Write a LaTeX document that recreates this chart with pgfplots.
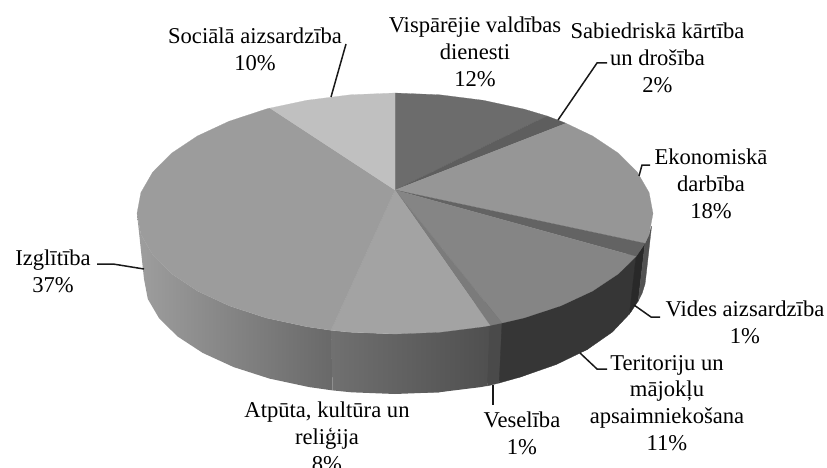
\documentclass[border=0pt]{standalone}
\usepackage{pgfplots}
\pgfplotsset{compat=1.18}
\usepackage{fontspec}
\setmainfont{Liberation Serif}
\definecolor{cGen}{HTML}{6C6C6C}
\definecolor{cOrd}{HTML}{5E5E5E}
\definecolor{cEko}{HTML}{969696}
\definecolor{cVid}{HTML}{636363}
\definecolor{cTer}{HTML}{858585}
\definecolor{cVes}{HTML}{7B7B7B}
\definecolor{cAtp}{HTML}{A3A3A3}
\definecolor{cIzg}{HTML}{9C9C9C}
\definecolor{cSoc}{HTML}{C0C0C0}
\tikzset{lbl/.style={font=\fontsize{22.6}{26.8}\selectfont,align=center,inner sep=0pt,text=black},
  ld/.style={black!90,line width=1.5pt}}
\begin{document}
\begin{tikzpicture}
\useasboundingbox (0,0) rectangle (827pt,468pt);
\clip (0,0) rectangle (827pt,468pt);
\begin{axis}[at={(0,0)},anchor=south west,scale only axis,width=827pt,height=468pt,
  xmin=0,xmax=827,ymin=0,ymax=468,y dir=reverse,hide axis,clip=false]
% underlay of the central part of the wall, so that no seam shows
\addplot[fill=black!70,draw=none] coordinates {
(400,330)(640,250)(634,305)(587.3,349.5)(520.5,377)(438.6,392.3)(400,393)} --cycle;
% side walls
\addplot[left color=black!38,right color=black!59,draw=none] coordinates {
(137,213.5)(140.9,234.4)(152.6,254.7)(171.6,273.8)(197.4,291)(229.2,305.8)(266,317.9)(306.8,326.7)(331,330.3)
(332.6,390.4)(309.2,387.1)(269.5,378.6)(233.7,367.1)(202.7,352.9)(177.6,336.5)(159.1,318.3)(147.8,299)(144,279)} --cycle;
\addplot[left color=black!56,right color=black!69,draw=none] coordinates {
(331,330.3)(350.2,332.2)(395,334)(439.8,332.2)(483.2,326.7)(490,325.5)
(487.4,385.9)(480.8,387.1)(438.6,392.3)(395,394)(351.4,392.3)(332.6,390.4)} --cycle;
\addplot[fill=black!71,draw=black!71,line width=.3pt] coordinates {
(490,325.5)(502,323)(499.2,383)(487.4,385.9)} --cycle;
\addplot[fill=black!79,draw=black!79,line width=.3pt] coordinates {
(502,323)(524,317.9)(560.8,305.8)(592.6,291)(618.4,273.8)(636,256.5)
(629.4,314)(612.4,332)(587.3,349.5)(556.3,364.5)(520.5,377)(499.2,383)} --cycle;
\addplot[fill=black!84,draw=black!84,line width=.3pt] coordinates {
(636,256.5)(637.4,254.7)(645,243.3)(638.2,301)(630.9,312)(629.4,314)} --cycle;
\addplot[fill=black!68,draw=black!68,line width=.3pt] coordinates {
(645,243.3)(649.1,234.4)(651.6,226)(646,276)(645,284)(642.2,293)(638.2,301)} --cycle;
% top face
\addplot[fill=cGen,draw=cGen,line width=.2pt] coordinates {(395,190)(395,93)(439.8,94.8)(483.2,100.3)(524,109.1)(547,116)} --cycle;
\addplot[fill=cOrd,draw=cOrd,line width=.2pt] coordinates {(395,190)(547,116)(560.8,121.2)(566,123.3)} --cycle;
\addplot[fill=cEko,draw=cEko,line width=.2pt] coordinates {(395,190)(566,123.3)(592.6,136)(618.4,153.2)(637.4,172.3)(649.1,192.6)(653,213.5)(649.1,234.4)(645,243.3)} --cycle;
\addplot[fill=cVid,draw=cVid,line width=.2pt] coordinates {(395,190)(645,243.3)(637.4,254.7)(636,256.5)} --cycle;
\addplot[fill=cTer,draw=cTer,line width=.2pt] coordinates {(395,190)(636,256.5)(618.4,273.8)(592.6,291)(560.8,305.8)(524,317.9)(502,323)} --cycle;
\addplot[fill=cVes,draw=cVes,line width=.2pt] coordinates {(395,190)(502,323)(490,325.5)} --cycle;
\addplot[fill=cAtp,draw=cAtp,line width=.2pt] coordinates {(395,190)(490,325.5)(483.2,326.7)(439.8,332.2)(395,334)(350.2,332.2)(331,330.3)} --cycle;
\addplot[fill=cIzg,draw=cIzg,line width=.2pt] coordinates {(395,190)(331,330.3)(306.8,326.7)(266,317.9)(229.2,305.8)(197.4,291)(171.6,273.8)(152.6,254.7)(140.9,234.4)(137,213.5)(140.9,192.6)(152.6,172.3)(171.6,153.2)(197.4,136)(229.2,121.2)(266,109.1)(270,108.1)} --cycle;
\addplot[fill=cSoc,draw=cSoc,line width=.2pt] coordinates {(395,190)(270,108.1)(306.8,100.3)(350.2,94.8)(395,93)} --cycle;
% leader lines
\addplot[ld] coordinates {(558,120)(597,63)(607,63)};
\addplot[ld] coordinates {(634,305)(651,317)(660,317)};
\addplot[ld] coordinates {(580,353)(597,369)(607,369)};
\addplot[ld] coordinates {(493,385)(493,405)};
\addplot[ld] coordinates {(331,97)(346,44)};
\addplot[ld] coordinates {(97,264)(113,264)(144,269)};
\addplot[ld] coordinates {(639,176)(642,165)(650,165)};
% labels
\node[lbl] at (axis cs:475,52) {Vispārējie valdības\\dienesti\\12\%};
\node[lbl] at (axis cs:657.5,58) {Sabiedriskā kārtība\\un drošība\\2\%};
\node[lbl] at (axis cs:255,49) {Sociālā aizsardzība\\10\%};
\node[lbl] at (axis cs:711,184) {Ekonomiskā\\darbība\\18\%};
\node[lbl] at (axis cs:745,322) {Vides aizsardzība\\1\%};
\node[lbl] at (axis cs:667,403) {Teritoriju un\\mājokļu\\apsaimniekošana\\11\%};
\node[lbl] at (axis cs:522,433) {Veselība\\1\%};
\node[lbl] at (axis cs:327,437) {Atpūta, kultūra un\\reliģija\\8\%};
\node[lbl] at (axis cs:53,271) {Izglītība\\37\%};
\end{axis}
\end{tikzpicture}
\end{document}
